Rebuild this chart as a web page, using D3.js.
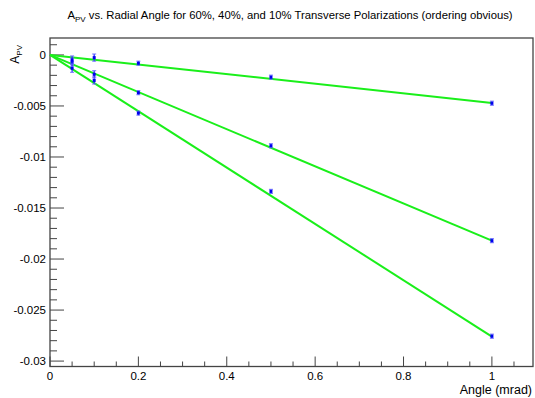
<!DOCTYPE html>
<html><head><meta charset="utf-8">
<script src="https://cdn.jsdelivr.net/npm/d3@7"></script>
<style>body{margin:0;background:#fff}svg{display:block}text{font-family:"Liberation Sans",Arial,sans-serif;fill:#000}</style>
</head><body><svg id="c" width="535" height="398"></svg>
<script>
const angles = [0.05, 0.1, 0.2, 0.5, 1.0];
const apv60 = [-0.0013, -0.0025, -0.0057, -0.01337, -0.02756];
const apv40 = [-0.0007, -0.0019, -0.0037, -0.0089, -0.0182];
const apv10 = [-0.0005, -0.00026, -0.00081, -0.00218, -0.00473];
const err60 = [0.0004, 0.00035, 0.0002, 0.0002, 0.0002];
const err40 = [0.0004, 0.00035, 0.0002, 0.0002, 0.0002];
const err10 = [0.0004, 0.00035, 0.0002, 0.0002, 0.0002];
const fitSlopes = [-0.0276, -0.0182, -0.00470];
const xTicks = [0, 0.2, 0.4, 0.6, 0.8, 1];
const yTicks = [0, -0.005, -0.01, -0.015, -0.02, -0.025, -0.03];
const yTickLabels = ["0", "-0.005", "-0.01", "-0.015", "-0.02", "-0.025", "-0.03"];

const svg = d3.select("#c");
const L = 50, R = 533, T = 38, B = 366.5;
const x = d3.scaleLinear().domain([0, 1.093]).range([L, R]);
const y = d3.scaleLinear().domain([-0.03053, 0.00166]).range([B, T]);

// title
const title = svg.append("text").attr("x", 290).attr("y", 18.5).attr("text-anchor", "middle").attr("font-size", 11.3);
title.append("tspan").text("A");
title.append("tspan").attr("font-size", 8).attr("dy", 3).text("PV");
title.append("tspan").attr("dy", -3).text(" vs. Radial Angle for 60%, 40%, and 10% Transverse Polarizations (ordering obvious)");

// frame
svg.append("rect").attr("x", L).attr("y", T).attr("width", R - L).attr("height", B - T)
  .attr("fill", "none").attr("stroke", "#444").attr("stroke-width", 1.3);

// y ticks (inward)
const yMinor = d3.range(0, 31).map(i => -i * 0.001).concat([0.001]);
svg.append("g").selectAll("line").data(yMinor).join("line")
  .attr("x1", L).attr("x2", d => L + (Math.abs(Math.round(d * 1000)) % 5 === 0 ? 14 : 7))
  .attr("y1", d => y(d)).attr("y2", d => y(d)).attr("stroke", "#444").attr("stroke-width", 1);
svg.append("g").selectAll("text").data(yTicks).join("text")
  .attr("x", 46).attr("y", d => y(d) + 4).attr("text-anchor", "end").attr("font-size", 11.5)
  .text((d, i) => yTickLabels[i]);

// x ticks
const xMinor = d3.range(0, 22).map(i => i * 0.05);
svg.append("g").selectAll("line").data(xMinor).join("line")
  .attr("x1", d => x(d)).attr("x2", d => x(d)).attr("y1", B)
  .attr("y2", (d, i) => B - (i % 4 === 0 ? 10 : 5)).attr("stroke", "#444").attr("stroke-width", 1);
svg.append("g").selectAll("text").data(xTicks).join("text")
  .attr("x", d => x(d)).attr("y", 379.5).attr("text-anchor", "middle").attr("font-size", 11.5)
  .text(d => d === 0 || d === 1 ? String(d) : d.toFixed(1));

// axis titles
svg.append("text").attr("x", 532).attr("y", 393.5).attr("text-anchor", "end").attr("font-size", 12.5).text("Angle (mrad)");
const yt = svg.append("text").attr("transform", "translate(19,45) rotate(-90)").attr("text-anchor", "end").attr("font-size", 12);
yt.append("tspan").text("A");
yt.append("tspan").attr("font-size", 8).attr("dy", 3).text("PV");

// fit lines
svg.append("g").selectAll("line").data(fitSlopes).join("line")
  .attr("x1", x(0)).attr("y1", y(0)).attr("x2", x(1)).attr("y2", d => y(d * 1))
  .attr("stroke", "#1aef1a").attr("stroke-width", 2);

// points with error bars
const series = [[apv60, err60], [apv40, err40], [apv10, err10]];
series.forEach(([vals, errs]) => {
  const g = svg.append("g");
  const pts = angles.map((a, i) => ({a, v: vals[i], e: errs[i]}));
  g.selectAll("line.v").data(pts).join("line").attr("class", "v")
    .attr("x1", d => x(d.a)).attr("x2", d => x(d.a)).attr("y1", d => y(d.v + d.e)).attr("y2", d => y(d.v - d.e))
    .attr("stroke", "#2020ff").attr("stroke-width", 1.2);
  ["+", "-"].forEach(s => {
    g.selectAll("line.c" + (s === "+" ? "t" : "b")).data(pts).join("line").attr("class", "c" + (s === "+" ? "t" : "b"))
      .attr("x1", d => x(d.a) - 2).attr("x2", d => x(d.a) + 2)
      .attr("y1", d => y(s === "+" ? d.v + d.e : d.v - d.e)).attr("y2", d => y(s === "+" ? d.v + d.e : d.v - d.e))
      .attr("stroke", "#6a6aff").attr("stroke-width", 1);
  });
  g.selectAll("rect").data(pts).join("rect")
    .attr("x", d => x(d.a) - 1.5).attr("y", d => y(d.v) - 1.5).attr("width", 3).attr("height", 3)
    .attr("fill", "#0000ee");
});
</script></body></html>
